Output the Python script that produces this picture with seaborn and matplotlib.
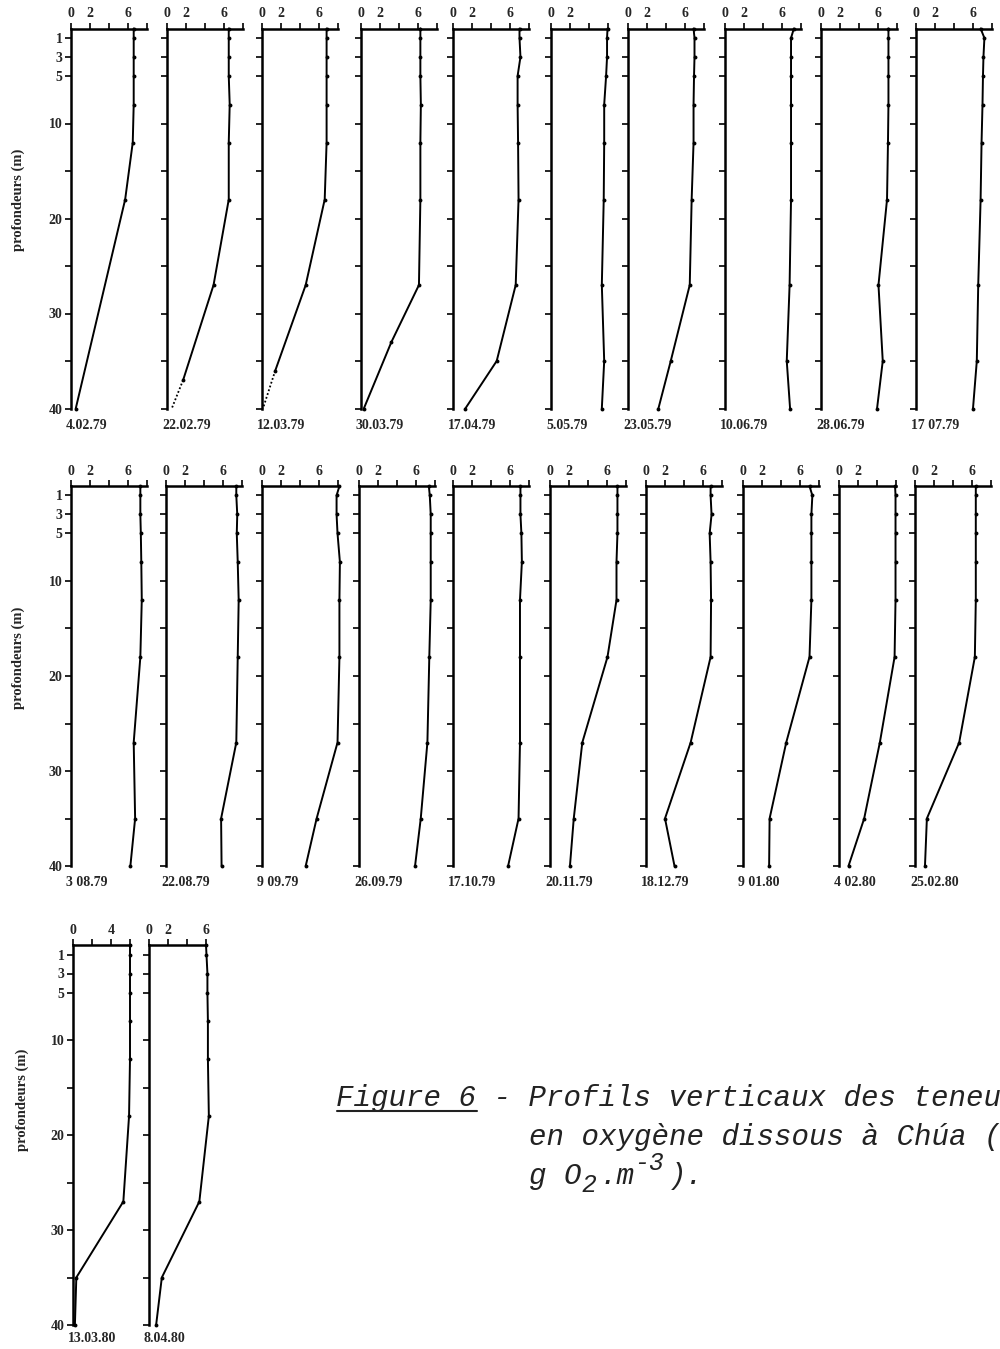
import numpy as np
import pandas as pd
import matplotlib
matplotlib.use("Agg")
import matplotlib.pyplot as plt
from matplotlib.lines import Line2D
import seaborn as sns

# ---------------- data ----------------
DATES = ["4.02.79", "22.02.79", "12.03.79", "30.03.79", "17.04.79",
         "5.05.79", "23.05.79", "10.06.79", "28.06.79", "17 07.79",
         "3 08.79", "22.08.79", "9 09.79", "26.09.79", "17.10.79",
         "20.11.79", "18.12.79", "9 01.80", "4 02.80", "25.02.80",
         "13.03.80", "8.04.80"]

STD = [0, 1, 3, 5, 8, 12, 18, 27, 35, 40]
DEPTHS = [
    [0, 1, 3, 5, 8, 12, 18, 40],
    [0, 1, 3, 5, 8, 12, 18, 27, 37],
    [0, 1, 3, 5, 8, 12, 18, 27, 36],
    [0, 1, 3, 5, 8, 12, 18, 27, 33, 40],
    STD, STD, STD, STD, STD, STD,
    STD, STD, STD, STD, STD, STD, STD, STD, STD, STD,
    STD, STD,
]
O2 = [
    [6.6, 6.6, 6.6, 6.6, 6.6, 6.5, 5.7, 0.5],
    [6.5, 6.5, 6.5, 6.5, 6.6, 6.5, 6.5, 4.9, 1.7],
    [6.8, 6.8, 6.8, 6.8, 6.8, 6.8, 6.6, 4.6, 1.4],
    [6.25, 6.25, 6.25, 6.25, 6.3, 6.25, 6.25, 6.1, 3.2, 0.3],
    [7.0, 7.0, 7.1, 6.8, 6.8, 6.85, 6.9, 6.6, 4.6, 1.3],
    [5.95, 5.9, 5.9, 5.8, 5.6, 5.6, 5.55, 5.35, 5.6, 5.35],
    [6.9, 7.0, 7.0, 6.95, 6.9, 6.9, 6.7, 6.5, 4.5, 3.2],
    [7.25, 6.95, 6.95, 6.95, 6.95, 6.95, 6.95, 6.8, 6.5, 6.85],
    [7.1, 7.1, 7.1, 7.1, 7.1, 7.05, 6.95, 6.05, 6.5, 5.9],
    [6.8, 7.2, 7.1, 7.05, 7.0, 6.9, 6.8, 6.55, 6.4, 6.0],
    [7.3, 7.3, 7.3, 7.35, 7.4, 7.45, 7.3, 6.6, 6.75, 6.25],
    [7.4, 7.4, 7.5, 7.45, 7.55, 7.65, 7.55, 7.4, 5.8, 5.85],
    [8.15, 7.85, 7.85, 7.95, 8.2, 8.15, 8.15, 7.95, 5.75, 4.6],
    [7.35, 7.45, 7.55, 7.55, 7.55, 7.55, 7.4, 7.2, 6.5, 5.9],
    [7.1, 7.1, 7.1, 7.2, 7.25, 7.05, 7.05, 7.05, 6.9, 5.8],
    [7.1, 7.1, 7.1, 7.1, 7.0, 7.0, 6.05, 3.4, 2.5, 2.1],
    [6.8, 6.8, 6.9, 6.7, 6.8, 6.85, 6.8, 4.7, 2.0, 3.0],
    [7.0, 7.3, 7.2, 7.2, 7.2, 7.2, 7.0, 4.55, 2.8, 2.75],
    [5.9, 5.95, 5.95, 5.95, 5.95, 5.95, 5.85, 4.3, 2.65, 1.0],
    [6.4, 6.4, 6.4, 6.4, 6.4, 6.4, 6.3, 4.65, 1.25, 1.05],
    [6.0, 6.0, 6.0, 6.0, 6.0, 6.0, 5.9, 5.3, 0.35, 0.2],
    [6.0, 6.05, 6.15, 6.15, 6.2, 6.2, 6.3, 5.3, 1.35, 0.75],
]
# dotted extrapolation down to 40 m
DOTTED_DATES = ["22.02.79", "12.03.79"]
DOTTED_BOTTOM_O2 = [0.5, 0.1]

XMAX = [8, 8, 8, 8, 8, 6, 8, 8, 8, 8,
        8, 8, 8, 8, 8, 8, 8, 8, 6, 8,
        6, 6]
XTICKLABELS_DEFAULT = {8: ["0", "2", "", "6", ""], 6: ["0", "2", "", ""]}
XTICKLABELS_SPECIAL = {"13.03.80": ["0", "", "4", ""], "8.04.80": ["0", "2", "", "6"]}
YTICKS = [1, 3, 5, 10, 15, 20, 25, 30, 35, 40]
YTICKLABELS = ["1", "3", "5", "10", "", "20", "", "30", "", "40"]
YLABEL = "profondeurs (m)"

CAPTION_1 = "Figure 6 - Profils verticaux des teneurs"
CAPTION_2 = "en oxygène dissous à Chúa (en"

# ---------------- layout ----------------
sns.set_theme(style="ticks")
plt.rcParams['font.family'] = ['Liberation Serif', 'DejaVu Serif']

W, H = 1000, 1349
fig = plt.figure(figsize=(W / 100, H / 100), dpi=100)
fig.patch.set_facecolor("white")

ROW_TOP = [28.5, 486, 945]
LEFTS = [[71, 167, 262, 361, 453, 551, 628, 725, 821, 916],
         [71, 166, 262, 359, 453, 550, 646, 743, 839, 915],
         [73, 149]]
DATE_OFFSET = [17, 17, 13]
YLAB_POS = [(18, 200), (18, 658), (22, 1100)]
PXM = 9.5   # px per metre
PXU = 9.5   # px per g O2 unit

idx = 0
for r, lefts in enumerate(LEFTS):
    for c, L in enumerate(lefts):
        date = DATES[idx]
        xmax = XMAX[idx]
        ax = fig.add_axes([L / W, 1 - (ROW_TOP[r] + 40 * PXM) / H,
                           xmax * PXU / W, 40 * PXM / H])
        df = pd.DataFrame({"depth": DEPTHS[idx], "o2": O2[idx]})
        sns.lineplot(data=df, x="o2", y="depth", sort=False, estimator=None,
                     color="black", lw=1.4, marker="o", markersize=2.8,
                     markeredgewidth=0, ax=ax, clip_on=False)
        if date in DOTTED_DATES:
            k = DOTTED_DATES.index(date)
            ext = pd.DataFrame({"depth": [DEPTHS[idx][-1], 40],
                                "o2": [O2[idx][-1], DOTTED_BOTTOM_O2[k]]})
            sns.lineplot(data=ext, x="o2", y="depth", sort=False, estimator=None,
                         color="black", lw=1.3, linestyle=(0, (1, 1.2)), ax=ax,
                         clip_on=False)
        ax.set_xlim(0, xmax)
        ax.set_ylim(40, 0)
        ax.set_xlabel("")
        ax.set_ylabel("")
        ax.set_facecolor("none")
        for s in ["right", "bottom"]:
            ax.spines[s].set_visible(False)
        for s in ["top", "left"]:
            ax.spines[s].set_visible(True)
            ax.spines[s].set_color("black")
            ax.spines[s].set_linewidth(1.8)
        xt = list(range(0, xmax + 1, 2))
        ax.set_xticks(xt)
        labs = XTICKLABELS_SPECIAL.get(date, XTICKLABELS_DEFAULT[xmax])
        ax.set_xticklabels(labs, fontsize=10, fontweight="bold")
        ax.set_yticks(YTICKS)
        if c == 0:
            ax.set_yticklabels(YTICKLABELS, fontsize=10, fontweight="bold")
        else:
            ax.set_yticklabels([""] * len(YTICKS))
        ax.tick_params(axis="x", top=True, bottom=False, labeltop=True,
                       labelbottom=False, direction="out", length=4, width=1.2,
                       color="black", pad=2)
        ax.tick_params(axis="y", left=True, right=False, direction="out",
                       length=4, width=1.2, color="black", pad=2)
        fig.text((L - 5) / W, 1 - (ROW_TOP[r] + 40 * PXM + DATE_OFFSET[r]) / H,
                 date, ha="left", va="center", fontsize=10, fontweight="bold")
        idx += 1
    fig.text(YLAB_POS[r][0] / W, 1 - YLAB_POS[r][1] / H, YLABEL, rotation=90,
             ha="center", va="center", fontsize=10.5, fontweight="bold")

# ---------------- caption ----------------
PITCH = 17.5                       # px per monospace character
CFS = PITCH / 0.6 * 72 / 100       # font size in pt
cap_font = dict(family=["Liberation Mono", "DejaVu Sans Mono"], style="italic",
                color="#222222", va="baseline", ha="left")
X0 = 529
fig.text((X0 - 11 * PITCH) / W, 1 - 1106 / H, CAPTION_1, fontsize=CFS, **cap_font)
fig.add_artist(Line2D([(X0 - 11 * PITCH) / W, (X0 - 3 * PITCH) / W],
                      [1 - 1111 / H, 1 - 1111 / H], color="#222222", lw=1.5))
fig.text(X0 / W, 1 - 1145 / H, CAPTION_2, fontsize=CFS, **cap_font)
fig.text(X0 / W, 1 - 1184 / H, "g O", fontsize=CFS, **cap_font)
fig.text((X0 + 3 * PITCH) / W, 1 - 1192 / H, "2", fontsize=CFS * 0.85, **cap_font)
fig.text((X0 + 4 * PITCH) / W, 1 - 1184 / H, ".m", fontsize=CFS, **cap_font)
fig.text((X0 + 6 * PITCH) / W, 1 - 1170 / H, "-3", fontsize=CFS * 0.85, **cap_font)
fig.text((X0 + 8 * PITCH) / W, 1 - 1184 / H, ").", fontsize=CFS, **cap_font)

fig.savefig("out.png", dpi=100, facecolor="white")
